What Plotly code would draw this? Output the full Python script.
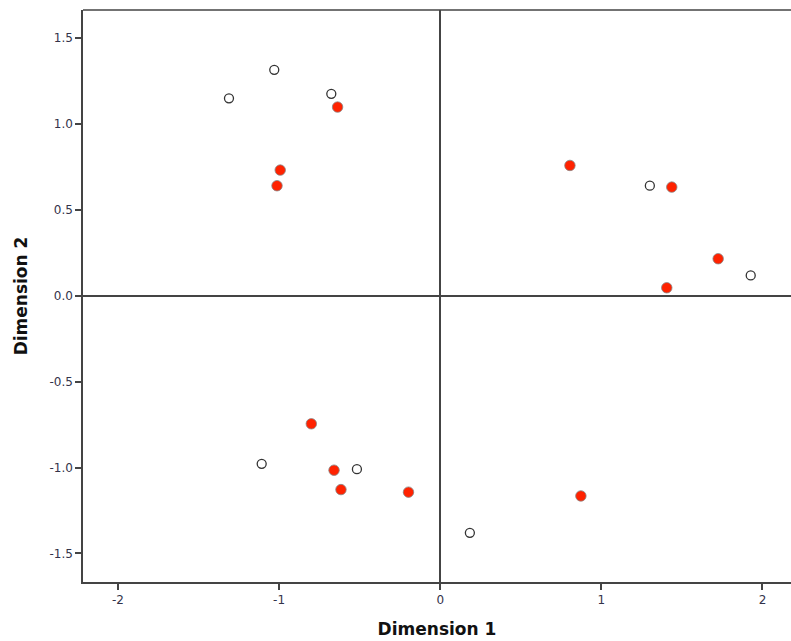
import plotly.graph_objects as go

# Open (white) points
open_x = [-1.311, -1.030, -0.676, 1.301, 1.927, -1.108, -0.517, 0.184]
open_y = [1.150, 1.316, 1.176, 0.641, 0.119, -0.978, -1.009, -1.380]

# Filled (red) points
red_x = [-0.637, -0.993, -1.013, 0.805, 1.437, 1.725, 1.406, -0.800, -0.659, -0.616, -0.197, 0.873]
red_y = [1.099, 0.732, 0.641, 0.759, 0.633, 0.216, 0.047, -0.745, -1.015, -1.128, -1.143, -1.165]

x_ticks = [-2, -1, 0, 1, 2]
x_labels = ["-2", "-1", "0", "1", "2"]
y_ticks = [-1.5, -1.0, -0.5, 0.0, 0.5, 1.0, 1.5]
y_labels = ["-1.5", "-1.0", "-0.5", "0.0", "0.5", "1.0", "1.5"]

fig = go.Figure()
fig.add_trace(go.Scatter(
    x=open_x, y=open_y, mode="markers",
    marker=dict(size=9, color="white", line=dict(color="#333333", width=1.3)),
    showlegend=False,
))
fig.add_trace(go.Scatter(
    x=red_x, y=red_y, mode="markers",
    marker=dict(size=10.5, color="#FF2200", line=dict(color="#888888", width=0.8)),
    showlegend=False,
))

axis_font = dict(family="DejaVu Sans", size=12, color="#33334a")
title_font = dict(family="DejaVu Sans", size=17, color="#111111")

fig.update_layout(
    width=791, height=641,
    margin=dict(l=83, r=0, t=10, b=59),
    paper_bgcolor="white", plot_bgcolor="white",
    xaxis=dict(
        range=[-2.217, 2.177], tickvals=x_ticks, ticktext=x_labels,
        showgrid=False, zeroline=True, zerolinecolor="#444444", zerolinewidth=1.5,
        showline=True, linecolor="#444444", linewidth=1.5,
        ticks="outside", ticklen=6, tickcolor="#444444", tickwidth=1.5,
        tickfont=axis_font,
        title=dict(text="<b>Dimension 1</b>", font=title_font, standoff=17),
    ),
    yaxis=dict(
        range=[-1.666, 1.664], tickvals=y_ticks, ticktext=y_labels,
        showgrid=False, zeroline=True, zerolinecolor="#444444", zerolinewidth=1.5,
        showline=True, linecolor="#444444", linewidth=1.5,
        ticks="outside", ticklen=6, tickcolor="#444444", tickwidth=1.5,
        tickfont=axis_font,
        title=dict(text="<b>Dimension 2</b>", font=title_font, standoff=17),
    ),
    shapes=[dict(type="line", xref="paper", yref="paper", x0=0, x1=1, y0=1, y1=1,
                 line=dict(color="#444444", width=1.5))],
)

# remove the browser's default body margin so the figure sits at the page origin
fig.write_html(
    "out.html",
    config={"displayModeBar": False},
    post_script="document.body.style.margin='0';document.body.style.overflow='hidden';",
)
